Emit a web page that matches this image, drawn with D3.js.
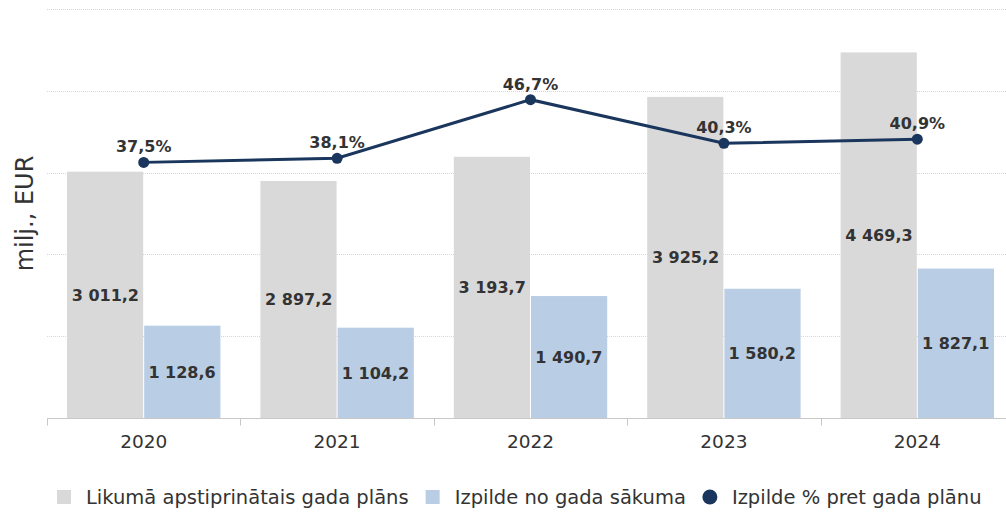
<!DOCTYPE html>
<html>
<head>
<meta charset="utf-8">
<script src="https://cdn.jsdelivr.net/npm/d3@7"></script>
<style>
  body { margin: 0; background: #fff; }
  svg { display: block; font-family: "DejaVu Sans", Verdana, sans-serif; }
</style>
</head>
<body>
<svg id="chart" width="1006" height="512"></svg>
<script>
// dati
var years = ["2020", "2021", "2022", "2023", "2024"];
var plans = [3011.2, 2897.2, 3193.7, 3925.2, 4469.3];
var done = [1128.6, 1104.2, 1490.7, 1580.2, 1827.1];
var pct = [37.5, 38.1, 46.7, 40.3, 40.9];
var yTicks = [0, 1000, 2000, 3000, 4000, 5000];
var seriesNames = ["Likumā apstiprinātais gada plāns", "Izpilde no gada sākuma", "Izpilde % pret gada plānu"];

var colPlan = "#d9d9d9", colDone = "#b9cde5", colLine = "#1b365d", txt = "#333333";

var fmt = function (v) {
  var s = v.toFixed(1).split(".");
  return s[0].replace(/\B(?=(\d{3})+(?!\d))/g, " ") + "," + s[1];
};

var svg = d3.select("#chart");
var pLeft = 47, pRight = 1014, pTop = 9, pBottom = 418;

var x = d3.scaleBand().domain(years).range([pLeft, pRight]).padding(0);
var y = d3.scaleLinear().domain([0, 5000]).range([pBottom, pTop]);
var yp = d3.scaleLinear().domain([0, 60]).range([pBottom, pTop]);
var inner = d3.scaleBand().domain([0, 1]).range([20, x.bandwidth() - 20]).padding(0);

// režģis
svg.append("g").selectAll("line")
  .data(yTicks.slice(1))
  .enter().append("line")
  .attr("x1", pLeft).attr("x2", 1006)
  .attr("y1", function (d) { return Math.round(y(d)) + 0.5; })
  .attr("y2", function (d) { return Math.round(y(d)) + 0.5; })
  .attr("stroke", "#d6d6d6")
  .attr("stroke-dasharray", "1,1");

// stabiņi
var groups = svg.append("g").selectAll("g")
  .data(years)
  .enter().append("g")
  .attr("transform", function (d) { return "translate(" + x(d) + ",0)"; });

groups.append("rect")
  .attr("x", inner(0))
  .attr("width", inner.bandwidth() - 0.5)
  .attr("y", function (d, i) { return y(plans[i]); })
  .attr("height", function (d, i) { return pBottom - y(plans[i]); })
  .attr("fill", colPlan);

groups.append("rect")
  .attr("x", inner(1) + 0.5)
  .attr("width", inner.bandwidth() - 0.5)
  .attr("y", function (d, i) { return y(done[i]); })
  .attr("height", function (d, i) { return pBottom - y(done[i]); })
  .attr("fill", colDone);

groups.append("text")
  .attr("x", inner(0) + inner.bandwidth() / 2)
  .attr("y", function (d, i) { return (y(plans[i]) + pBottom) / 2; })
  .attr("dy", "0.36em")
  .attr("text-anchor", "middle")
  .attr("font-size", 16).attr("font-weight", "bold").attr("fill", txt)
  .text(function (d, i) { return fmt(plans[i]); });

groups.append("text")
  .attr("x", inner(1) + inner.bandwidth() / 2)
  .attr("y", function (d, i) { return (y(done[i]) + pBottom) / 2; })
  .attr("dy", "0.36em")
  .attr("text-anchor", "middle")
  .attr("font-size", 16).attr("font-weight", "bold").attr("fill", txt)
  .text(function (d, i) { return fmt(done[i]); });

// x ass
var xAxis = svg.append("g").attr("transform", "translate(0," + (pBottom + 0.5) + ")");
xAxis.append("line").attr("x1", pLeft).attr("x2", pRight).attr("stroke", "#c8c8c8");
xAxis.selectAll("line.tick")
  .data(years)
  .enter().append("line")
  .attr("class", "tick")
  .attr("x1", function (d) { return Math.round(x(d)) + 0.5; })
  .attr("x2", function (d) { return Math.round(x(d)) + 0.5; })
  .attr("y1", 0).attr("y2", 7)
  .attr("stroke", "#c8c8c8");
xAxis.selectAll("text")
  .data(years)
  .enter().append("text")
  .attr("x", function (d) { return x(d) + x.bandwidth() / 2; })
  .attr("y", 29)
  .attr("text-anchor", "middle")
  .attr("font-size", 18.5).attr("fill", txt)
  .text(function (d) { return d; });

// y ass nosaukums
svg.append("text")
  .attr("transform", "translate(33," + ((pTop + pBottom) / 2) + ") rotate(-90)")
  .attr("text-anchor", "middle")
  .attr("font-size", 24).attr("fill", txt)
  .text("milj., EUR");

// līnija
var line = d3.line()
  .x(function (d, i) { return x(years[i]) + x.bandwidth() / 2; })
  .y(function (d) { return yp(d); });

svg.append("path")
  .datum(pct)
  .attr("d", line)
  .attr("fill", "none")
  .attr("stroke", colLine)
  .attr("stroke-width", 3);

svg.append("g").selectAll("circle")
  .data(pct)
  .enter().append("circle")
  .attr("cx", function (d, i) { return x(years[i]) + x.bandwidth() / 2; })
  .attr("cy", function (d) { return yp(d); })
  .attr("r", 5.5)
  .attr("fill", colLine);

svg.append("g").selectAll("text")
  .data(pct)
  .enter().append("text")
  .attr("x", function (d, i) { return x(years[i]) + x.bandwidth() / 2; })
  .attr("y", function (d) { return yp(d) - 10; })
  .attr("text-anchor", "middle")
  .attr("font-size", 16).attr("font-weight", "bold").attr("fill", txt)
  .text(function (d) { return d.toFixed(1).replace(".", ",") + "%"; });

// leģenda
var legend = svg.append("g");
var lx = 57, ly = 497;
seriesNames.forEach(function (name, i) {
  if (i < 2) {
    legend.append("rect")
      .attr("x", lx).attr("y", ly - 7)
      .attr("width", 14).attr("height", 14)
      .attr("fill", i == 0 ? colPlan : colDone);
  } else {
    legend.append("circle")
      .attr("cx", lx + 7).attr("cy", ly).attr("r", 7.5)
      .attr("fill", colLine);
  }
  var t = legend.append("text")
    .attr("x", lx + 29).attr("y", ly)
    .attr("dy", "0.35em")
    .attr("font-size", 19.5).attr("fill", txt)
    .text(name);
  lx = lx + 29 + t.node().getComputedTextLength() + 17;
});
</script>
</body>
</html>
